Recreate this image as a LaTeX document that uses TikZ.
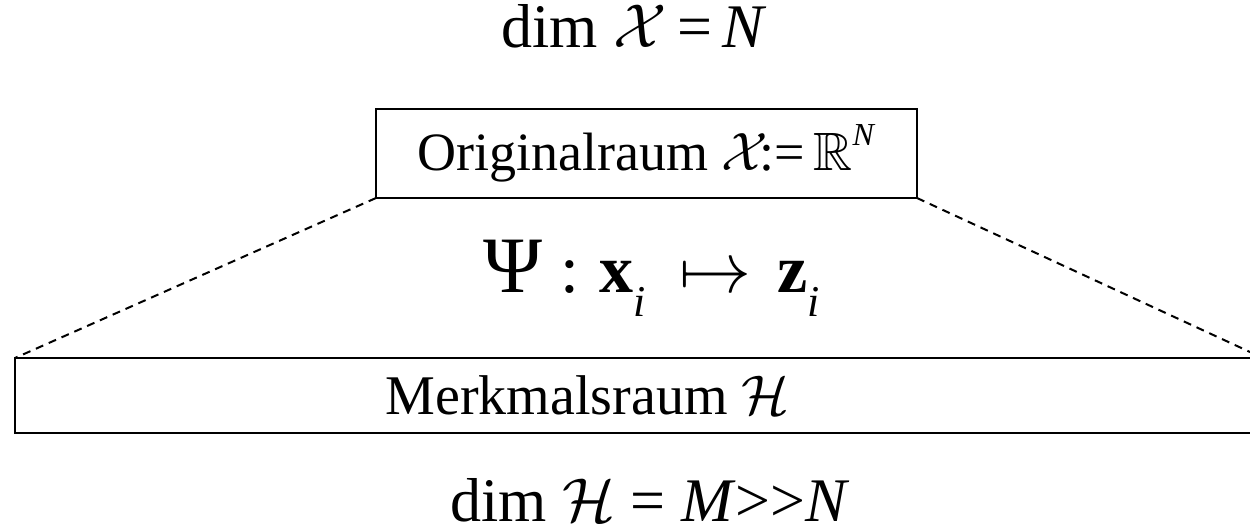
\RequirePackage{fix-cm}
\documentclass[tikz,border=0pt]{standalone}
\usepackage{amssymb}
\usepackage{fontspec}
\setmainfont{Liberation Serif}
\newcommand{\subi}{\raisebox{-0.35em}{\fontsize{22}{26}\selectfont\textit{i}}}
\begin{document}
\begin{tikzpicture}[x=0.5pt,y=-0.5pt,
  boxed/.style={draw=black,line width=1.3pt,inner sep=0pt,outer sep=0pt},
  dashline/.style={draw=black,line width=1pt,dash pattern=on 4pt off 3pt},
  bigtext/.style={font=\fontsize{31}{36}\selectfont,inner sep=0pt,anchor=base}]
\useasboundingbox (0,0) rectangle (1250,529);
\clip (0,0) rectangle (1250,529);
\node[bigtext] (dimx) at (634,48) {dim \(\mathcal{X}\)\,=\,\textit{N}};
\node[boxed,font=\fontsize{27}{31}\selectfont,minimum width=270.5pt,minimum height=44.5pt] (orig) at (646.5,153.5)
  {Originalraum \(\mathcal{X}\)\!:=\,\(\mathbb{R}\)\raisebox{0.45em}{\fontsize{16}{18}\selectfont\textit{N}}};
\node[bigtext,font=\fontsize{34}{40}\selectfont,anchor=base west] (psi) at (483,293)
  {{\fontsize{40}{46}\selectfont Ψ}\kern9pt:\kern10pt\textbf{x}\subi\kern17pt{\fontsize{36}{40}\selectfont\(\mapsto\)}\kern13pt\textbf{z}\subi};
\node[boxed,font=\fontsize{28}{32}\selectfont,minimum width=624pt,minimum height=37.5pt] (merk) at (639,395.5)
  {Merkmalsraum \(\mathcal{H}\)\kern51.5pt};
\node[bigtext] (dimh) at (650,522) {dim \(\mathcal{H}\) = \textit{M}{>}{>}\textit{N}};
\draw[dashline] (orig.south west) -- (merk.north west);
\draw[dashline] (orig.south east) -- (merk.north east);
\end{tikzpicture}
\end{document}
